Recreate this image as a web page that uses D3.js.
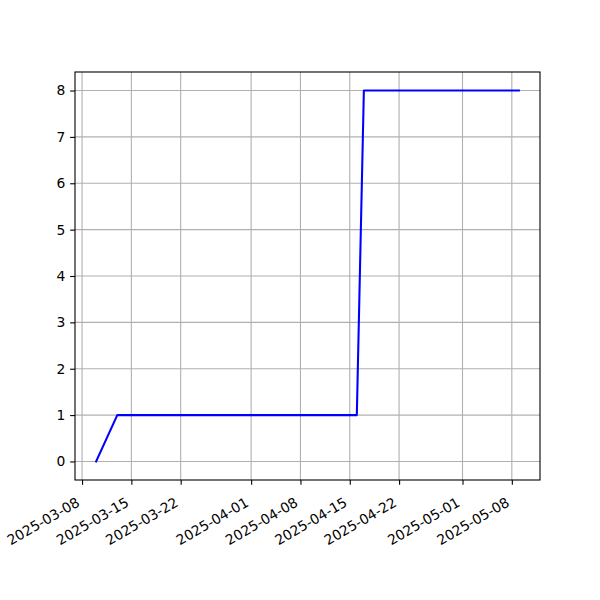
<!DOCTYPE html>
<html>
<head>
<meta charset="utf-8">
<script src="https://cdn.jsdelivr.net/npm/d3@7"></script>
<style>
  html, body { margin: 0; padding: 0; background: #fff; }
  svg { display: block; }
  text { font-family: "DejaVu Sans", sans-serif; }
</style>
</head>
<body>
<svg id="chart" width="600" height="600"></svg>
<script>
// ---- data ----
const dates = ["2025-03-10", "2025-03-13", "2025-04-16", "2025-04-17", "2025-05-09"];
const values = [0, 1, 1, 8, 8];
const xTickLabels = ["2025-03-08", "2025-03-15", "2025-03-22", "2025-04-01", "2025-04-08",
                     "2025-04-15", "2025-04-22", "2025-05-01", "2025-05-08"];
const yTickValues = [0, 1, 2, 3, 4, 5, 6, 7, 8];

(function () {
// ---- layout ----
const W = 600, H = 600;
const mLeft = 75, mRight = 540, mTop = 72, mBottom = 480;
const fontPx = 13.89;
const tickLen = 4.86, pad = 4.86;

const parse = d3.utcParse("%Y-%m-%d");
const pts = dates.map((d, i) => ({ t: parse(d), v: values[i] }));

// matplotlib-like 5% margins
const tExt = d3.extent(pts, d => +d.t);
const tPad = (tExt[1] - tExt[0]) * 0.05;
const vExt = d3.extent(pts, d => d.v);
const vPad = (vExt[1] - vExt[0]) * 0.05;

const x = d3.scaleUtc().domain([new Date(tExt[0] - tPad), new Date(tExt[1] + tPad)]).range([mLeft, mRight]);
const y = d3.scaleLinear().domain([vExt[0] - vPad, vExt[1] + vPad]).range([mBottom, mTop]);

const svg = d3.select("#chart");
svg.append("rect").attr("width", W).attr("height", H).attr("fill", "#fff");

const xTicks = xTickLabels.map(parse);

// grid
const grid = svg.append("g").attr("stroke", "#b0b0b0").attr("stroke-width", 1.1);
grid.selectAll("line.vx").data(xTicks).join("line")
  .attr("x1", d => x(d)).attr("x2", d => x(d))
  .attr("y1", mTop).attr("y2", mBottom);
grid.selectAll("line.hy").data(yTickValues).join("line")
  .attr("x1", mLeft).attr("x2", mRight)
  .attr("y1", d => y(d)).attr("y2", d => y(d));

// line
const line = d3.line().x(d => x(d.t)).y(d => y(d.v));
svg.append("path").datum(pts)
  .attr("d", line)
  .attr("fill", "none")
  .attr("stroke", "#0000ff")
  .attr("stroke-width", 2.08)
  .attr("stroke-linejoin", "round")
  .attr("stroke-linecap", "square");

// x axis
const xAxis = d3.axisBottom(x).tickValues(xTicks)
  .tickFormat(d3.utcFormat("%Y-%m-%d"))
  .tickSize(tickLen).tickPadding(pad);
const gx = svg.append("g").attr("transform", `translate(0,${mBottom})`).call(xAxis);
gx.select(".domain").remove();
gx.selectAll(".tick line").attr("stroke", "#000").attr("stroke-width", 1.1);
gx.selectAll(".tick text")
  .attr("font-size", fontPx)
  .attr("font-family", "DejaVu Sans, sans-serif")
  .attr("fill", "#000")
  .attr("text-anchor", "end")
  .attr("y", 0).attr("dy", 0)
  .attr("transform", `translate(-2,${tickLen + pad + 15.5}) rotate(-30)`);

// y axis
const yAxis = d3.axisLeft(y).tickValues(yTickValues)
  .tickFormat(d3.format("d"))
  .tickSize(tickLen).tickPadding(pad);
const gy = svg.append("g").attr("transform", `translate(${mLeft},0)`).call(yAxis);
gy.select(".domain").remove();
gy.selectAll(".tick line").attr("stroke", "#000").attr("stroke-width", 1.1);
gy.selectAll(".tick text")
  .attr("font-size", fontPx)
  .attr("font-family", "DejaVu Sans, sans-serif")
  .attr("fill", "#000");

// frame
svg.append("rect")
  .attr("x", mLeft).attr("y", mTop)
  .attr("width", mRight - mLeft).attr("height", mBottom - mTop)
  .attr("fill", "none").attr("stroke", "#000").attr("stroke-width", 1.1);
})();
</script>
</body>
</html>
